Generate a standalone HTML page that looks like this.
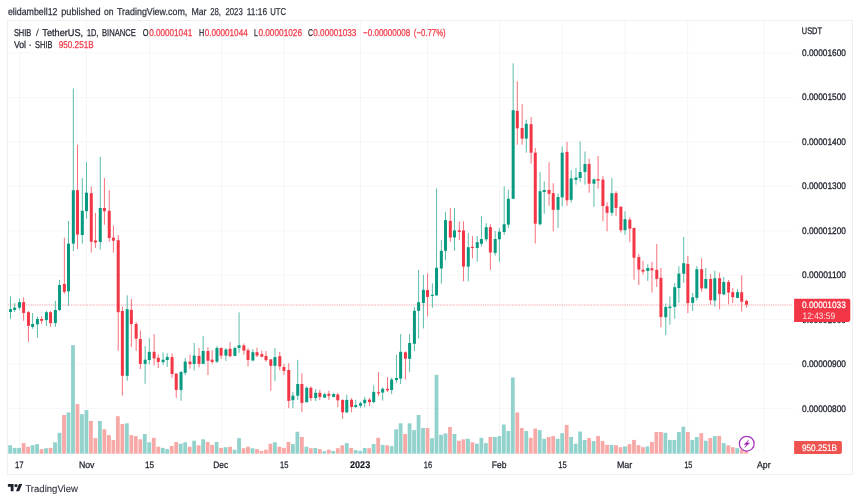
<!DOCTYPE html>
<html lang="en">
<head>
<meta charset="utf-8">
<title>SHIB / TetherUS, 1D, BINANCE</title>
<style>
  html, body { margin: 0; padding: 0; background: #ffffff; }
  body { width: 860px; height: 501px; overflow: hidden; font-family: "Liberation Sans", sans-serif; }
  svg { display: block; }
  text { font-family: "Liberation Sans", sans-serif; text-rendering: geometricPrecision; stroke-width: 0.25px; stroke-linejoin: round; white-space: pre; }
  .hdr { font-size: 10px; fill: #30343f; stroke: #30343f; }
  .lg { font-size: 9.9px; fill: #1c202b; stroke: #1c202b; }
  .lgs { font-size: 9.9px; fill: #3a3e49; stroke: none; }
  .lgr { font-size: 9.9px; fill: #f23645; stroke: #f23645; }
  .ax { font-size: 9.5px; fill: #1c202b; stroke: #1c202b; stroke-width: 0.3px; }
  .tm { font-size: 9.4px; fill: #1c202b; stroke: #1c202b; stroke-width: 0.25px; }
  .tmb { font-size: 9.8px; fill: #131722; stroke: #131722; stroke-width: 0.15px; font-weight: bold; }
  .wh { font-size: 9.4px; fill: #ffffff; stroke: #ffffff; stroke-width: 0.2px; }
  .wh2 { font-size: 9.4px; fill: #ffffff; stroke: none; fill-opacity: 0.85; }
  .logo { font-size: 9.8px; fill: #2a2e39; stroke: #2a2e39; stroke-width: 0.1px; }
</style>
</head>
<body>
<svg width="860" height="501" viewBox="0 0 860 501">
<rect x="0" y="0" width="860" height="501" fill="#ffffff"/>

<!-- chart frame -->
<rect x="7.5" y="20.5" width="845" height="454" fill="#ffffff" stroke="#edeff3" stroke-width="1"/>

<g>
<rect x="19" y="21" width="1" height="432.7" fill="#f5f5f7"/>
<rect x="86" y="21" width="1" height="432.7" fill="#f5f5f7"/>
<rect x="149" y="21" width="1" height="432.7" fill="#f5f5f7"/>
<rect x="221" y="21" width="1" height="432.7" fill="#f5f5f7"/>
<rect x="283.7" y="21" width="1" height="432.7" fill="#f5f5f7"/>
<rect x="360" y="21" width="1" height="432.7" fill="#f5f5f7"/>
<rect x="427" y="21" width="1" height="432.7" fill="#f5f5f7"/>
<rect x="499" y="21" width="1" height="432.7" fill="#f5f5f7"/>
<rect x="561.8" y="21" width="1" height="432.7" fill="#f5f5f7"/>
<rect x="624.5" y="21" width="1" height="432.7" fill="#f5f5f7"/>
<rect x="687.2" y="21" width="1" height="432.7" fill="#f5f5f7"/>
<rect x="763.8" y="21" width="1" height="432.7" fill="#f5f5f7"/>
<rect x="8" y="52.5" width="786" height="1" fill="#f7f7f9"/>
<rect x="8" y="96.95" width="786" height="1" fill="#f7f7f9"/>
<rect x="8" y="141.4" width="786" height="1" fill="#f7f7f9"/>
<rect x="8" y="185.85" width="786" height="1" fill="#f7f7f9"/>
<rect x="8" y="230.3" width="786" height="1" fill="#f7f7f9"/>
<rect x="8" y="274.75" width="786" height="1" fill="#f7f7f9"/>
<rect x="8" y="319.2" width="786" height="1" fill="#f7f7f9"/>
<rect x="8" y="363.65" width="786" height="1" fill="#f7f7f9"/>
<rect x="8" y="408.1" width="786" height="1" fill="#f7f7f9"/>
</g>
<g>
<rect x="8.25" y="445.2" width="3.8" height="8.5" fill="#92d2cc"/>
<rect x="12.74" y="447.9" width="3.8" height="5.8" fill="#92d2cc"/>
<rect x="17.23" y="447.9" width="3.8" height="5.8" fill="#92d2cc"/>
<rect x="21.71" y="443.1" width="3.8" height="10.6" fill="#f7a9a7"/>
<rect x="26.2" y="446.7" width="3.8" height="7" fill="#f7a9a7"/>
<rect x="30.69" y="445.2" width="3.8" height="8.5" fill="#92d2cc"/>
<rect x="35.18" y="444.1" width="3.8" height="9.6" fill="#92d2cc"/>
<rect x="39.67" y="449.1" width="3.8" height="4.6" fill="#f7a9a7"/>
<rect x="44.15" y="448.2" width="3.8" height="5.5" fill="#92d2cc"/>
<rect x="48.64" y="447.9" width="3.8" height="5.8" fill="#f7a9a7"/>
<rect x="53.13" y="442.3" width="3.8" height="11.4" fill="#92d2cc"/>
<rect x="57.62" y="432.8" width="3.8" height="20.9" fill="#92d2cc"/>
<rect x="62.11" y="415" width="3.8" height="38.7" fill="#f7a9a7"/>
<rect x="66.59" y="412.4" width="3.8" height="41.3" fill="#92d2cc"/>
<rect x="71.08" y="345.2" width="3.8" height="108.5" fill="#92d2cc"/>
<rect x="75.57" y="404.1" width="3.8" height="49.6" fill="#f7a9a7"/>
<rect x="80.06" y="414.2" width="3.8" height="39.5" fill="#92d2cc"/>
<rect x="84.55" y="410.1" width="3.8" height="43.6" fill="#92d2cc"/>
<rect x="89.03" y="421" width="3.8" height="32.7" fill="#f7a9a7"/>
<rect x="93.52" y="438.1" width="3.8" height="15.6" fill="#f7a9a7"/>
<rect x="98.01" y="421" width="3.8" height="32.7" fill="#92d2cc"/>
<rect x="102.5" y="429.3" width="3.8" height="24.4" fill="#f7a9a7"/>
<rect x="106.99" y="435.1" width="3.8" height="18.6" fill="#f7a9a7"/>
<rect x="111.47" y="440" width="3.8" height="13.7" fill="#f7a9a7"/>
<rect x="115.96" y="416.2" width="3.8" height="37.5" fill="#f7a9a7"/>
<rect x="120.45" y="424" width="3.8" height="29.7" fill="#f7a9a7"/>
<rect x="124.94" y="423.3" width="3.8" height="30.4" fill="#92d2cc"/>
<rect x="129.43" y="435.1" width="3.8" height="18.6" fill="#f7a9a7"/>
<rect x="133.91" y="436.1" width="3.8" height="17.6" fill="#f7a9a7"/>
<rect x="138.4" y="439.3" width="3.8" height="14.4" fill="#f7a9a7"/>
<rect x="142.89" y="434" width="3.8" height="19.7" fill="#92d2cc"/>
<rect x="147.38" y="442.3" width="3.8" height="11.4" fill="#92d2cc"/>
<rect x="151.87" y="437.8" width="3.8" height="15.9" fill="#f7a9a7"/>
<rect x="156.35" y="446.7" width="3.8" height="7" fill="#f7a9a7"/>
<rect x="160.84" y="447.9" width="3.8" height="5.8" fill="#92d2cc"/>
<rect x="165.33" y="449.1" width="3.8" height="4.6" fill="#92d2cc"/>
<rect x="169.82" y="445.9" width="3.8" height="7.8" fill="#f7a9a7"/>
<rect x="174.31" y="441.9" width="3.8" height="11.8" fill="#f7a9a7"/>
<rect x="178.79" y="443.7" width="3.8" height="10" fill="#92d2cc"/>
<rect x="183.28" y="442.3" width="3.8" height="11.4" fill="#92d2cc"/>
<rect x="187.77" y="446.7" width="3.8" height="7" fill="#f7a9a7"/>
<rect x="192.26" y="440.7" width="3.8" height="13" fill="#92d2cc"/>
<rect x="196.75" y="445.3" width="3.8" height="8.4" fill="#f7a9a7"/>
<rect x="201.23" y="439.3" width="3.8" height="14.4" fill="#92d2cc"/>
<rect x="205.72" y="441.9" width="3.8" height="11.8" fill="#f7a9a7"/>
<rect x="210.21" y="444.9" width="3.8" height="8.8" fill="#f7a9a7"/>
<rect x="214.7" y="441.9" width="3.8" height="11.8" fill="#92d2cc"/>
<rect x="219.19" y="447.9" width="3.8" height="5.8" fill="#f7a9a7"/>
<rect x="223.67" y="447.2" width="3.8" height="6.5" fill="#92d2cc"/>
<rect x="228.16" y="446.7" width="3.8" height="7" fill="#f7a9a7"/>
<rect x="232.65" y="449.7" width="3.8" height="4" fill="#92d2cc"/>
<rect x="237.14" y="438.2" width="3.8" height="15.5" fill="#92d2cc"/>
<rect x="241.63" y="448.2" width="3.8" height="5.5" fill="#f7a9a7"/>
<rect x="246.11" y="446.7" width="3.8" height="7" fill="#f7a9a7"/>
<rect x="250.6" y="448.2" width="3.8" height="5.5" fill="#92d2cc"/>
<rect x="255.09" y="449.1" width="3.8" height="4.6" fill="#f7a9a7"/>
<rect x="259.58" y="450.9" width="3.8" height="2.8" fill="#f7a9a7"/>
<rect x="264.07" y="449.7" width="3.8" height="4" fill="#f7a9a7"/>
<rect x="268.55" y="443.7" width="3.8" height="10" fill="#f7a9a7"/>
<rect x="273.04" y="442.3" width="3.8" height="11.4" fill="#92d2cc"/>
<rect x="277.53" y="446.7" width="3.8" height="7" fill="#f7a9a7"/>
<rect x="282.02" y="447.9" width="3.8" height="5.8" fill="#f7a9a7"/>
<rect x="286.51" y="441.9" width="3.8" height="11.8" fill="#f7a9a7"/>
<rect x="290.99" y="444.1" width="3.8" height="9.6" fill="#92d2cc"/>
<rect x="295.48" y="431.7" width="3.8" height="22" fill="#92d2cc"/>
<rect x="299.97" y="437" width="3.8" height="16.7" fill="#f7a9a7"/>
<rect x="304.46" y="446.7" width="3.8" height="7" fill="#92d2cc"/>
<rect x="308.95" y="448.2" width="3.8" height="5.5" fill="#f7a9a7"/>
<rect x="313.43" y="447.9" width="3.8" height="5.8" fill="#92d2cc"/>
<rect x="317.92" y="449.1" width="3.8" height="4.6" fill="#f7a9a7"/>
<rect x="322.41" y="451.2" width="3.8" height="2.5" fill="#92d2cc"/>
<rect x="326.9" y="449.7" width="3.8" height="4" fill="#f7a9a7"/>
<rect x="331.39" y="450.9" width="3.8" height="2.8" fill="#92d2cc"/>
<rect x="335.87" y="448.2" width="3.8" height="5.5" fill="#f7a9a7"/>
<rect x="340.36" y="445.3" width="3.8" height="8.4" fill="#f7a9a7"/>
<rect x="344.85" y="443.1" width="3.8" height="10.6" fill="#92d2cc"/>
<rect x="349.34" y="447.9" width="3.8" height="5.8" fill="#f7a9a7"/>
<rect x="353.83" y="450.2" width="3.8" height="3.5" fill="#92d2cc"/>
<rect x="358.31" y="450.9" width="3.8" height="2.8" fill="#92d2cc"/>
<rect x="362.8" y="447.9" width="3.8" height="5.8" fill="#92d2cc"/>
<rect x="367.29" y="448.2" width="3.8" height="5.5" fill="#f7a9a7"/>
<rect x="371.78" y="444.1" width="3.8" height="9.6" fill="#92d2cc"/>
<rect x="376.27" y="437.8" width="3.8" height="15.9" fill="#f7a9a7"/>
<rect x="380.75" y="444.9" width="3.8" height="8.8" fill="#92d2cc"/>
<rect x="385.24" y="445.3" width="3.8" height="8.4" fill="#f7a9a7"/>
<rect x="389.73" y="446.1" width="3.8" height="7.6" fill="#92d2cc"/>
<rect x="394.22" y="429.3" width="3.8" height="24.4" fill="#92d2cc"/>
<rect x="398.71" y="423.3" width="3.8" height="30.4" fill="#92d2cc"/>
<rect x="403.19" y="434" width="3.8" height="19.7" fill="#f7a9a7"/>
<rect x="407.68" y="423.3" width="3.8" height="30.4" fill="#92d2cc"/>
<rect x="412.17" y="430.1" width="3.8" height="23.6" fill="#92d2cc"/>
<rect x="416.66" y="415" width="3.8" height="38.7" fill="#92d2cc"/>
<rect x="421.15" y="428" width="3.8" height="25.7" fill="#92d2cc"/>
<rect x="425.63" y="428" width="3.8" height="25.7" fill="#f7a9a7"/>
<rect x="430.12" y="438.2" width="3.8" height="15.5" fill="#92d2cc"/>
<rect x="434.61" y="374.9" width="3.8" height="78.8" fill="#92d2cc"/>
<rect x="439.1" y="434.8" width="3.8" height="18.9" fill="#92d2cc"/>
<rect x="443.59" y="433.5" width="3.8" height="20.2" fill="#92d2cc"/>
<rect x="448.07" y="427" width="3.8" height="26.7" fill="#f7a9a7"/>
<rect x="452.56" y="434" width="3.8" height="19.7" fill="#92d2cc"/>
<rect x="457.05" y="440.7" width="3.8" height="13" fill="#f7a9a7"/>
<rect x="461.54" y="439.3" width="3.8" height="14.4" fill="#f7a9a7"/>
<rect x="466.03" y="438.8" width="3.8" height="14.9" fill="#92d2cc"/>
<rect x="470.51" y="442.3" width="3.8" height="11.4" fill="#f7a9a7"/>
<rect x="475" y="443.7" width="3.8" height="10" fill="#92d2cc"/>
<rect x="479.49" y="437.8" width="3.8" height="15.9" fill="#92d2cc"/>
<rect x="483.98" y="443.1" width="3.8" height="10.6" fill="#92d2cc"/>
<rect x="488.47" y="437" width="3.8" height="16.7" fill="#f7a9a7"/>
<rect x="492.95" y="437" width="3.8" height="16.7" fill="#92d2cc"/>
<rect x="497.44" y="436.1" width="3.8" height="17.6" fill="#92d2cc"/>
<rect x="501.93" y="424.5" width="3.8" height="29.2" fill="#92d2cc"/>
<rect x="506.42" y="431" width="3.8" height="22.7" fill="#92d2cc"/>
<rect x="510.91" y="377.5" width="3.8" height="76.2" fill="#92d2cc"/>
<rect x="515.39" y="412.4" width="3.8" height="41.3" fill="#f7a9a7"/>
<rect x="519.88" y="428" width="3.8" height="25.7" fill="#f7a9a7"/>
<rect x="524.37" y="431" width="3.8" height="22.7" fill="#92d2cc"/>
<rect x="528.86" y="437.8" width="3.8" height="15.9" fill="#f7a9a7"/>
<rect x="533.35" y="428.6" width="3.8" height="25.1" fill="#f7a9a7"/>
<rect x="537.83" y="430.1" width="3.8" height="23.6" fill="#92d2cc"/>
<rect x="542.32" y="438.8" width="3.8" height="14.9" fill="#92d2cc"/>
<rect x="546.81" y="437" width="3.8" height="16.7" fill="#f7a9a7"/>
<rect x="551.3" y="436.1" width="3.8" height="17.6" fill="#f7a9a7"/>
<rect x="555.79" y="438.8" width="3.8" height="14.9" fill="#92d2cc"/>
<rect x="560.27" y="433.2" width="3.8" height="20.5" fill="#92d2cc"/>
<rect x="564.76" y="424.9" width="3.8" height="28.8" fill="#f7a9a7"/>
<rect x="569.25" y="437" width="3.8" height="16.7" fill="#92d2cc"/>
<rect x="573.74" y="443.7" width="3.8" height="10" fill="#92d2cc"/>
<rect x="578.23" y="431.6" width="3.8" height="22.1" fill="#92d2cc"/>
<rect x="582.71" y="439.9" width="3.8" height="13.8" fill="#92d2cc"/>
<rect x="587.2" y="438.1" width="3.8" height="15.6" fill="#f7a9a7"/>
<rect x="591.69" y="441.1" width="3.8" height="12.6" fill="#92d2cc"/>
<rect x="596.18" y="436.1" width="3.8" height="17.6" fill="#f7a9a7"/>
<rect x="600.67" y="441.1" width="3.8" height="12.6" fill="#f7a9a7"/>
<rect x="605.15" y="444.9" width="3.8" height="8.8" fill="#f7a9a7"/>
<rect x="609.64" y="444.9" width="3.8" height="8.8" fill="#92d2cc"/>
<rect x="614.13" y="445.2" width="3.8" height="8.5" fill="#f7a9a7"/>
<rect x="618.62" y="447.2" width="3.8" height="6.5" fill="#f7a9a7"/>
<rect x="623.11" y="446.4" width="3.8" height="7.3" fill="#92d2cc"/>
<rect x="627.59" y="444.1" width="3.8" height="9.6" fill="#f7a9a7"/>
<rect x="632.08" y="439.9" width="3.8" height="13.8" fill="#f7a9a7"/>
<rect x="636.57" y="445.2" width="3.8" height="8.5" fill="#f7a9a7"/>
<rect x="641.06" y="447.2" width="3.8" height="6.5" fill="#f7a9a7"/>
<rect x="645.55" y="446.4" width="3.8" height="7.3" fill="#92d2cc"/>
<rect x="650.03" y="441.9" width="3.8" height="11.8" fill="#f7a9a7"/>
<rect x="654.52" y="432" width="3.8" height="21.7" fill="#f7a9a7"/>
<rect x="659.01" y="432" width="3.8" height="21.7" fill="#f7a9a7"/>
<rect x="663.5" y="432.8" width="3.8" height="20.9" fill="#92d2cc"/>
<rect x="667.99" y="439.9" width="3.8" height="13.8" fill="#92d2cc"/>
<rect x="672.47" y="439.9" width="3.8" height="13.8" fill="#92d2cc"/>
<rect x="676.96" y="432" width="3.8" height="21.7" fill="#92d2cc"/>
<rect x="681.45" y="426.7" width="3.8" height="27" fill="#92d2cc"/>
<rect x="685.94" y="432" width="3.8" height="21.7" fill="#f7a9a7"/>
<rect x="690.43" y="439.9" width="3.8" height="13.8" fill="#92d2cc"/>
<rect x="694.91" y="437" width="3.8" height="16.7" fill="#92d2cc"/>
<rect x="699.4" y="433.2" width="3.8" height="20.5" fill="#f7a9a7"/>
<rect x="703.89" y="440.7" width="3.8" height="13" fill="#92d2cc"/>
<rect x="708.38" y="438.1" width="3.8" height="15.6" fill="#f7a9a7"/>
<rect x="712.87" y="436.1" width="3.8" height="17.6" fill="#92d2cc"/>
<rect x="717.35" y="435.8" width="3.8" height="17.9" fill="#f7a9a7"/>
<rect x="721.84" y="443.1" width="3.8" height="10.6" fill="#92d2cc"/>
<rect x="726.33" y="445.3" width="3.8" height="8.4" fill="#f7a9a7"/>
<rect x="730.82" y="447.2" width="3.8" height="6.5" fill="#f7a9a7"/>
<rect x="735.31" y="448.2" width="3.8" height="5.5" fill="#92d2cc"/>
<rect x="739.79" y="449.7" width="3.8" height="4" fill="#f7a9a7"/>
<rect x="744.28" y="451.2" width="3.8" height="2.5" fill="#f7a9a7"/>
</g>
<line x1="8" y1="305" x2="793" y2="305" stroke="#f23645" stroke-width="1.1" stroke-dasharray="1.35 0.9" opacity="0.42"/>
<g>
<rect x="10" y="296.3" width="1" height="22.7" fill="#5cbdab"/>
<rect x="9" y="309.2" width="3" height="2.7" fill="#089981"/>
<rect x="14.16" y="303.1" width="1" height="8.8" fill="#5cbdab"/>
<rect x="13.16" y="307.7" width="3" height="2.2" fill="#089981"/>
<rect x="18.98" y="298.6" width="1" height="11.4" fill="#5cbdab"/>
<rect x="17.98" y="302.1" width="3" height="5.6" fill="#089981"/>
<rect x="23.13" y="297.4" width="1" height="23.4" fill="#f6727d"/>
<rect x="22.13" y="302.1" width="3" height="10.9" fill="#f23645"/>
<rect x="27.95" y="311" width="1" height="30.7" fill="#f6727d"/>
<rect x="26.95" y="312.2" width="3" height="13.6" fill="#f23645"/>
<rect x="32.11" y="313" width="1" height="15.8" fill="#5cbdab"/>
<rect x="31.11" y="324" width="3" height="2.9" fill="#089981"/>
<rect x="36.93" y="316.7" width="1" height="20.9" fill="#5cbdab"/>
<rect x="35.93" y="319" width="3" height="5.3" fill="#089981"/>
<rect x="41.09" y="316" width="1" height="7.9" fill="#f6727d"/>
<rect x="40.09" y="319" width="3" height="1.8" fill="#f23645"/>
<rect x="45.9" y="311" width="1" height="15.1" fill="#5cbdab"/>
<rect x="44.9" y="312.2" width="3" height="7.9" fill="#089981"/>
<rect x="50.06" y="311" width="1" height="15.9" fill="#f6727d"/>
<rect x="49.06" y="312.2" width="3" height="10.9" fill="#f23645"/>
<rect x="54.88" y="300.9" width="1" height="26" fill="#5cbdab"/>
<rect x="53.88" y="310" width="3" height="13.1" fill="#089981"/>
<rect x="59.04" y="279.8" width="1" height="31.2" fill="#5cbdab"/>
<rect x="58.04" y="285" width="3" height="25" fill="#089981"/>
<rect x="63.86" y="237.7" width="1" height="56.1" fill="#f6727d"/>
<rect x="62.86" y="284" width="3" height="7.8" fill="#f23645"/>
<rect x="68.01" y="220.9" width="1" height="84.8" fill="#5cbdab"/>
<rect x="67.01" y="243.6" width="3" height="47.7" fill="#089981"/>
<rect x="72.83" y="88.4" width="1" height="162.7" fill="#5cbdab"/>
<rect x="71.83" y="190.2" width="3" height="53.4" fill="#089981"/>
<rect x="76.99" y="144.8" width="1" height="104.2" fill="#f6727d"/>
<rect x="75.99" y="190.2" width="3" height="44.3" fill="#f23645"/>
<rect x="81.81" y="178.1" width="1" height="65.5" fill="#5cbdab"/>
<rect x="80.81" y="210.8" width="3" height="24.2" fill="#089981"/>
<rect x="85.97" y="162.2" width="1" height="56.6" fill="#5cbdab"/>
<rect x="84.97" y="192.7" width="3" height="18.5" fill="#089981"/>
<rect x="90.78" y="186.4" width="1" height="66.2" fill="#f6727d"/>
<rect x="89.78" y="193.2" width="3" height="48.5" fill="#f23645"/>
<rect x="94.94" y="213" width="1" height="34.8" fill="#f6727d"/>
<rect x="93.94" y="240.5" width="3" height="2" fill="#f23645"/>
<rect x="99.76" y="156.9" width="1" height="92.7" fill="#5cbdab"/>
<rect x="98.76" y="208" width="3" height="34" fill="#089981"/>
<rect x="103.92" y="178.1" width="1" height="46.6" fill="#f6727d"/>
<rect x="102.92" y="208" width="3" height="3.2" fill="#f23645"/>
<rect x="108.74" y="190.2" width="1" height="51.5" fill="#f6727d"/>
<rect x="107.74" y="210.8" width="3" height="27.2" fill="#f23645"/>
<rect x="112.89" y="225.6" width="1" height="27" fill="#f6727d"/>
<rect x="111.89" y="237.7" width="3" height="3" fill="#f23645"/>
<rect x="117.71" y="235" width="1" height="115.8" fill="#f6727d"/>
<rect x="116.71" y="240.2" width="3" height="72" fill="#f23645"/>
<rect x="121.87" y="306.6" width="1" height="89" fill="#f6727d"/>
<rect x="120.87" y="311" width="3" height="64.8" fill="#f23645"/>
<rect x="126.69" y="295.3" width="1" height="85.5" fill="#5cbdab"/>
<rect x="125.69" y="309.2" width="3" height="66.6" fill="#089981"/>
<rect x="130.85" y="298.9" width="1" height="48.1" fill="#f6727d"/>
<rect x="129.85" y="309.9" width="3" height="14.1" fill="#f23645"/>
<rect x="135.66" y="322" width="1" height="29" fill="#f6727d"/>
<rect x="134.66" y="324" width="3" height="14.7" fill="#f23645"/>
<rect x="139.82" y="330.4" width="1" height="38.6" fill="#f6727d"/>
<rect x="138.82" y="339" width="3" height="24.9" fill="#f23645"/>
<rect x="144.64" y="346" width="1" height="37.8" fill="#5cbdab"/>
<rect x="143.64" y="359.7" width="3" height="4.2" fill="#089981"/>
<rect x="148.8" y="338.2" width="1" height="26.3" fill="#5cbdab"/>
<rect x="147.8" y="351.8" width="3" height="8.2" fill="#089981"/>
<rect x="153.62" y="334.1" width="1" height="31.3" fill="#f6727d"/>
<rect x="152.62" y="351.8" width="3" height="6.6" fill="#f23645"/>
<rect x="157.77" y="354.4" width="1" height="13.6" fill="#f6727d"/>
<rect x="156.77" y="357.8" width="3" height="4.1" fill="#f23645"/>
<rect x="162.59" y="352.5" width="1" height="12.4" fill="#5cbdab"/>
<rect x="161.59" y="359.7" width="3" height="2.5" fill="#089981"/>
<rect x="166.75" y="353.3" width="1" height="13.6" fill="#5cbdab"/>
<rect x="165.75" y="356.9" width="3" height="3.1" fill="#089981"/>
<rect x="171.57" y="353.3" width="1" height="24.5" fill="#f6727d"/>
<rect x="170.57" y="357.1" width="3" height="16.9" fill="#f23645"/>
<rect x="175.73" y="373.3" width="1" height="24.6" fill="#f6727d"/>
<rect x="174.73" y="373.6" width="3" height="16.3" fill="#f23645"/>
<rect x="180.54" y="371" width="1" height="29.8" fill="#5cbdab"/>
<rect x="179.54" y="372" width="3" height="17.9" fill="#089981"/>
<rect x="184.7" y="358.1" width="1" height="17" fill="#5cbdab"/>
<rect x="183.7" y="361.6" width="3" height="11.2" fill="#089981"/>
<rect x="189.52" y="354.8" width="1" height="13.9" fill="#f6727d"/>
<rect x="188.52" y="361.6" width="3" height="2.6" fill="#f23645"/>
<rect x="193.68" y="343" width="1" height="27.5" fill="#5cbdab"/>
<rect x="192.68" y="355.6" width="3" height="8.3" fill="#089981"/>
<rect x="198.5" y="347.9" width="1" height="19.6" fill="#f6727d"/>
<rect x="197.5" y="355.9" width="3" height="8" fill="#f23645"/>
<rect x="202.65" y="335.9" width="1" height="28.3" fill="#5cbdab"/>
<rect x="201.65" y="351" width="3" height="12.9" fill="#089981"/>
<rect x="207.47" y="347.1" width="1" height="28" fill="#f6727d"/>
<rect x="206.47" y="351" width="3" height="9.7" fill="#f23645"/>
<rect x="211.63" y="350.3" width="1" height="13.6" fill="#f6727d"/>
<rect x="210.63" y="359.7" width="3" height="2.2" fill="#f23645"/>
<rect x="216.45" y="346" width="1" height="17" fill="#5cbdab"/>
<rect x="215.45" y="348" width="3" height="13.6" fill="#089981"/>
<rect x="220.61" y="347.3" width="1" height="11.6" fill="#f6727d"/>
<rect x="219.61" y="348" width="3" height="7.6" fill="#f23645"/>
<rect x="225.42" y="348" width="1" height="12.9" fill="#5cbdab"/>
<rect x="224.42" y="349.5" width="3" height="6.1" fill="#089981"/>
<rect x="229.58" y="342.3" width="1" height="14.8" fill="#f6727d"/>
<rect x="228.58" y="348.8" width="3" height="7.4" fill="#f23645"/>
<rect x="234.4" y="346.5" width="1" height="9.8" fill="#5cbdab"/>
<rect x="233.4" y="348" width="3" height="7.9" fill="#089981"/>
<rect x="238.56" y="312.3" width="1" height="40.5" fill="#5cbdab"/>
<rect x="237.56" y="345.2" width="3" height="2.8" fill="#089981"/>
<rect x="243.38" y="343.5" width="1" height="11.2" fill="#f6727d"/>
<rect x="242.38" y="345.4" width="3" height="5.2" fill="#f23645"/>
<rect x="247.53" y="348.1" width="1" height="18.4" fill="#f6727d"/>
<rect x="246.53" y="350.2" width="3" height="9.8" fill="#f23645"/>
<rect x="252.35" y="349.1" width="1" height="12.1" fill="#5cbdab"/>
<rect x="251.35" y="352.2" width="3" height="8.3" fill="#089981"/>
<rect x="256.51" y="347.6" width="1" height="9.5" fill="#f6727d"/>
<rect x="255.51" y="352.2" width="3" height="3.4" fill="#f23645"/>
<rect x="261.33" y="350.6" width="1" height="6.8" fill="#f6727d"/>
<rect x="260.33" y="354.1" width="3" height="2.6" fill="#f23645"/>
<rect x="265.49" y="351.1" width="1" height="10.6" fill="#f6727d"/>
<rect x="264.49" y="355.9" width="3" height="4.3" fill="#f23645"/>
<rect x="270.3" y="359" width="1" height="31.8" fill="#f6727d"/>
<rect x="269.3" y="359.4" width="3" height="6.4" fill="#f23645"/>
<rect x="274.46" y="348.1" width="1" height="32.9" fill="#5cbdab"/>
<rect x="273.46" y="357.1" width="3" height="8.7" fill="#089981"/>
<rect x="279.28" y="351.9" width="1" height="18.4" fill="#f6727d"/>
<rect x="278.28" y="356.2" width="3" height="10.3" fill="#f23645"/>
<rect x="283.44" y="363.8" width="1" height="11.1" fill="#f6727d"/>
<rect x="282.44" y="367" width="3" height="3.8" fill="#f23645"/>
<rect x="288.26" y="363.2" width="1" height="45" fill="#f6727d"/>
<rect x="287.26" y="370" width="3" height="30.9" fill="#f23645"/>
<rect x="292.41" y="392" width="1" height="16.2" fill="#5cbdab"/>
<rect x="291.41" y="395.7" width="3" height="4.5" fill="#089981"/>
<rect x="297.23" y="359.8" width="1" height="40.1" fill="#5cbdab"/>
<rect x="296.23" y="384" width="3" height="11.7" fill="#089981"/>
<rect x="301.39" y="373.4" width="1" height="38.6" fill="#f6727d"/>
<rect x="300.39" y="384" width="3" height="18.9" fill="#f23645"/>
<rect x="306.21" y="386.3" width="1" height="16.2" fill="#5cbdab"/>
<rect x="305.21" y="387.8" width="3" height="14.4" fill="#089981"/>
<rect x="310.37" y="386.3" width="1" height="14.6" fill="#f6727d"/>
<rect x="309.37" y="387.8" width="3" height="10.3" fill="#f23645"/>
<rect x="315.18" y="389" width="1" height="12.1" fill="#5cbdab"/>
<rect x="314.18" y="392.8" width="3" height="5.3" fill="#089981"/>
<rect x="319.34" y="389.6" width="1" height="10.3" fill="#f6727d"/>
<rect x="318.34" y="392.8" width="3" height="4.1" fill="#f23645"/>
<rect x="324.16" y="392.8" width="1" height="5.3" fill="#5cbdab"/>
<rect x="323.16" y="394.3" width="3" height="3.3" fill="#089981"/>
<rect x="328.32" y="390.8" width="1" height="9.1" fill="#f6727d"/>
<rect x="327.32" y="393.8" width="3" height="2" fill="#f23645"/>
<rect x="333.14" y="392.8" width="1" height="4.5" fill="#5cbdab"/>
<rect x="332.14" y="394.1" width="3" height="2.8" fill="#089981"/>
<rect x="337.29" y="392.8" width="1" height="14.3" fill="#f6727d"/>
<rect x="336.29" y="394.6" width="3" height="5.7" fill="#f23645"/>
<rect x="342.11" y="399.5" width="1" height="19.3" fill="#f6727d"/>
<rect x="341.11" y="399.9" width="3" height="12.4" fill="#f23645"/>
<rect x="346.27" y="394.9" width="1" height="18.3" fill="#5cbdab"/>
<rect x="345.27" y="399.9" width="3" height="12.4" fill="#089981"/>
<rect x="351.09" y="398" width="1" height="14.2" fill="#f6727d"/>
<rect x="350.09" y="399.8" width="3" height="7.2" fill="#f23645"/>
<rect x="355.25" y="399.8" width="1" height="8.4" fill="#5cbdab"/>
<rect x="354.25" y="405.1" width="3" height="1.9" fill="#089981"/>
<rect x="360.06" y="401.7" width="1" height="6" fill="#5cbdab"/>
<rect x="359.06" y="403.2" width="3" height="2.6" fill="#089981"/>
<rect x="364.22" y="396.9" width="1" height="10.5" fill="#5cbdab"/>
<rect x="363.22" y="399.7" width="3" height="3.5" fill="#089981"/>
<rect x="369.04" y="397.9" width="1" height="8.3" fill="#f6727d"/>
<rect x="368.04" y="399.7" width="3" height="2.4" fill="#f23645"/>
<rect x="373.2" y="385.4" width="1" height="17.8" fill="#5cbdab"/>
<rect x="372.2" y="391.9" width="3" height="10.2" fill="#089981"/>
<rect x="378.02" y="372.2" width="1" height="23.9" fill="#f6727d"/>
<rect x="377.02" y="392.2" width="3" height="1.2" fill="#f23645"/>
<rect x="382.17" y="387.3" width="1" height="13.3" fill="#5cbdab"/>
<rect x="381.17" y="388.8" width="3" height="3.8" fill="#089981"/>
<rect x="386.99" y="377" width="1" height="14.9" fill="#f6727d"/>
<rect x="385.99" y="388.8" width="3" height="1.6" fill="#f23645"/>
<rect x="391.15" y="377.5" width="1" height="16.6" fill="#5cbdab"/>
<rect x="390.15" y="379.5" width="3" height="10.5" fill="#089981"/>
<rect x="395.97" y="354.8" width="1" height="28" fill="#5cbdab"/>
<rect x="394.97" y="378" width="3" height="2.1" fill="#089981"/>
<rect x="400.13" y="334" width="1" height="50" fill="#5cbdab"/>
<rect x="399.13" y="351.8" width="3" height="26.8" fill="#089981"/>
<rect x="404.94" y="351.3" width="1" height="28.2" fill="#f6727d"/>
<rect x="403.94" y="352.3" width="3" height="6.3" fill="#f23645"/>
<rect x="409.1" y="334" width="1" height="38.2" fill="#5cbdab"/>
<rect x="408.1" y="343" width="3" height="15.9" fill="#089981"/>
<rect x="413.92" y="307" width="1" height="44" fill="#5cbdab"/>
<rect x="412.92" y="310.8" width="3" height="33" fill="#089981"/>
<rect x="418.08" y="270" width="1" height="68.5" fill="#5cbdab"/>
<rect x="417.08" y="302.2" width="3" height="8.6" fill="#089981"/>
<rect x="422.9" y="274.8" width="1" height="53.6" fill="#5cbdab"/>
<rect x="421.9" y="289.8" width="3" height="13.2" fill="#089981"/>
<rect x="427.05" y="273.3" width="1" height="43.3" fill="#f6727d"/>
<rect x="426.05" y="290.1" width="3" height="6.8" fill="#f23645"/>
<rect x="431.87" y="283.3" width="1" height="24.5" fill="#5cbdab"/>
<rect x="430.87" y="294.7" width="3" height="1.2" fill="#089981"/>
<rect x="436.03" y="188.5" width="1" height="107.2" fill="#5cbdab"/>
<rect x="435.03" y="267.7" width="3" height="27.7" fill="#089981"/>
<rect x="440.85" y="240" width="1" height="43.6" fill="#5cbdab"/>
<rect x="439.85" y="250.8" width="3" height="17.7" fill="#089981"/>
<rect x="445.01" y="211.8" width="1" height="48.4" fill="#5cbdab"/>
<rect x="444.01" y="220.1" width="3" height="30.7" fill="#089981"/>
<rect x="449.82" y="208" width="1" height="33.7" fill="#f6727d"/>
<rect x="448.82" y="220.9" width="3" height="16.6" fill="#f23645"/>
<rect x="453.98" y="208" width="1" height="42.7" fill="#5cbdab"/>
<rect x="452.98" y="230.4" width="3" height="7.1" fill="#089981"/>
<rect x="458.8" y="221.3" width="1" height="18.7" fill="#f6727d"/>
<rect x="457.8" y="230.4" width="3" height="1.5" fill="#f23645"/>
<rect x="462.96" y="221.3" width="1" height="60" fill="#f6727d"/>
<rect x="461.96" y="230.5" width="3" height="36.1" fill="#f23645"/>
<rect x="467.78" y="233" width="1" height="48.3" fill="#5cbdab"/>
<rect x="466.78" y="247.2" width="3" height="19.4" fill="#089981"/>
<rect x="471.93" y="236" width="1" height="22.6" fill="#f6727d"/>
<rect x="470.93" y="246.9" width="3" height="1.2" fill="#f23645"/>
<rect x="476.75" y="236" width="1" height="25.8" fill="#5cbdab"/>
<rect x="475.75" y="242.2" width="3" height="5.8" fill="#089981"/>
<rect x="480.91" y="216" width="1" height="30.6" fill="#5cbdab"/>
<rect x="479.91" y="239" width="3" height="4.8" fill="#089981"/>
<rect x="485.73" y="223.2" width="1" height="18.4" fill="#5cbdab"/>
<rect x="484.73" y="227.2" width="3" height="12.1" fill="#089981"/>
<rect x="489.89" y="224.2" width="1" height="45.6" fill="#f6727d"/>
<rect x="488.89" y="227.2" width="3" height="25.3" fill="#f23645"/>
<rect x="494.7" y="231" width="1" height="24.6" fill="#5cbdab"/>
<rect x="493.7" y="239" width="3" height="13.9" fill="#089981"/>
<rect x="498.86" y="228" width="1" height="33.7" fill="#5cbdab"/>
<rect x="497.86" y="231.7" width="3" height="7.6" fill="#089981"/>
<rect x="503.68" y="186.3" width="1" height="48.5" fill="#5cbdab"/>
<rect x="502.68" y="224.2" width="3" height="7.8" fill="#089981"/>
<rect x="507.84" y="189.6" width="1" height="38.4" fill="#5cbdab"/>
<rect x="506.84" y="198.7" width="3" height="25.9" fill="#089981"/>
<rect x="512.66" y="63.3" width="1" height="135.9" fill="#5cbdab"/>
<rect x="511.66" y="110.2" width="3" height="88.6" fill="#089981"/>
<rect x="516.81" y="81.2" width="1" height="63.5" fill="#f6727d"/>
<rect x="515.81" y="110.9" width="3" height="17.4" fill="#f23645"/>
<rect x="521.63" y="104.1" width="1" height="40.6" fill="#f6727d"/>
<rect x="520.63" y="128" width="3" height="10.6" fill="#f23645"/>
<rect x="525.79" y="119.7" width="1" height="33" fill="#5cbdab"/>
<rect x="524.79" y="123.8" width="3" height="14.8" fill="#089981"/>
<rect x="530.61" y="117" width="1" height="46.6" fill="#f6727d"/>
<rect x="529.61" y="124.2" width="3" height="28.5" fill="#f23645"/>
<rect x="534.77" y="148.1" width="1" height="95.4" fill="#f6727d"/>
<rect x="533.77" y="152.7" width="3" height="71" fill="#f23645"/>
<rect x="539.58" y="172" width="1" height="53.7" fill="#5cbdab"/>
<rect x="538.58" y="191.2" width="3" height="33" fill="#089981"/>
<rect x="543.74" y="181.4" width="1" height="32.2" fill="#5cbdab"/>
<rect x="542.74" y="190" width="3" height="2" fill="#089981"/>
<rect x="548.56" y="162.2" width="1" height="43.5" fill="#f6727d"/>
<rect x="547.56" y="190" width="3" height="3.8" fill="#f23645"/>
<rect x="552.72" y="183.2" width="1" height="48.2" fill="#f6727d"/>
<rect x="551.72" y="193.2" width="3" height="16.6" fill="#f23645"/>
<rect x="557.54" y="193.5" width="1" height="34.5" fill="#5cbdab"/>
<rect x="556.54" y="197" width="3" height="12.8" fill="#089981"/>
<rect x="561.69" y="146.6" width="1" height="59.7" fill="#5cbdab"/>
<rect x="560.69" y="152.7" width="3" height="44.6" fill="#089981"/>
<rect x="566.51" y="141.8" width="1" height="63.9" fill="#f6727d"/>
<rect x="565.51" y="151.9" width="3" height="48.4" fill="#f23645"/>
<rect x="570.67" y="170" width="1" height="32.6" fill="#5cbdab"/>
<rect x="569.67" y="178.4" width="3" height="21.4" fill="#089981"/>
<rect x="575.49" y="167.8" width="1" height="16.9" fill="#5cbdab"/>
<rect x="574.49" y="177.6" width="3" height="2.3" fill="#089981"/>
<rect x="579.65" y="141.3" width="1" height="40.4" fill="#5cbdab"/>
<rect x="578.65" y="172" width="3" height="6" fill="#089981"/>
<rect x="584.46" y="151.5" width="1" height="33.2" fill="#5cbdab"/>
<rect x="583.46" y="164" width="3" height="7.9" fill="#089981"/>
<rect x="588.62" y="158.7" width="1" height="34" fill="#f6727d"/>
<rect x="587.62" y="164" width="3" height="19.7" fill="#f23645"/>
<rect x="593.44" y="178.4" width="1" height="28.4" fill="#5cbdab"/>
<rect x="592.44" y="179.4" width="3" height="4.3" fill="#089981"/>
<rect x="597.6" y="156" width="1" height="32.7" fill="#f6727d"/>
<rect x="596.6" y="179.1" width="3" height="1.5" fill="#f23645"/>
<rect x="602.42" y="176.1" width="1" height="45.1" fill="#f6727d"/>
<rect x="601.42" y="179.6" width="3" height="26.4" fill="#f23645"/>
<rect x="606.57" y="202.3" width="1" height="29.1" fill="#f6727d"/>
<rect x="605.57" y="206.3" width="3" height="6.5" fill="#f23645"/>
<rect x="611.39" y="178.1" width="1" height="37.8" fill="#5cbdab"/>
<rect x="610.39" y="193.2" width="3" height="19.6" fill="#089981"/>
<rect x="615.55" y="191.2" width="1" height="24.7" fill="#f6727d"/>
<rect x="614.55" y="193.2" width="3" height="14.7" fill="#f23645"/>
<rect x="620.37" y="206" width="1" height="26.5" fill="#f6727d"/>
<rect x="619.37" y="206.8" width="3" height="23.4" fill="#f23645"/>
<rect x="624.53" y="211.3" width="1" height="23.5" fill="#5cbdab"/>
<rect x="623.53" y="219.2" width="3" height="11" fill="#089981"/>
<rect x="629.34" y="217.4" width="1" height="24.9" fill="#f6727d"/>
<rect x="628.34" y="219.7" width="3" height="9" fill="#f23645"/>
<rect x="633.5" y="227.5" width="1" height="52.2" fill="#f6727d"/>
<rect x="632.5" y="228" width="3" height="29.7" fill="#f23645"/>
<rect x="638.32" y="254.1" width="1" height="31" fill="#f6727d"/>
<rect x="637.32" y="257.1" width="3" height="12.5" fill="#f23645"/>
<rect x="642.48" y="260.9" width="1" height="13.6" fill="#f6727d"/>
<rect x="641.48" y="269.8" width="3" height="1.8" fill="#f23645"/>
<rect x="647.3" y="264.2" width="1" height="16.7" fill="#5cbdab"/>
<rect x="646.3" y="268" width="3" height="3" fill="#089981"/>
<rect x="651.45" y="261.7" width="1" height="31" fill="#f6727d"/>
<rect x="650.45" y="268.3" width="3" height="2" fill="#f23645"/>
<rect x="656.27" y="244.1" width="1" height="42.8" fill="#f6727d"/>
<rect x="655.27" y="269.8" width="3" height="9.1" fill="#f23645"/>
<rect x="660.43" y="268" width="1" height="59.3" fill="#f6727d"/>
<rect x="659.43" y="277.8" width="3" height="39.1" fill="#f23645"/>
<rect x="665.25" y="303.5" width="1" height="31.5" fill="#5cbdab"/>
<rect x="664.25" y="307" width="3" height="10.2" fill="#089981"/>
<rect x="669.41" y="296.3" width="1" height="28.4" fill="#5cbdab"/>
<rect x="668.41" y="306.6" width="3" height="1.5" fill="#089981"/>
<rect x="674.22" y="283.1" width="1" height="35.6" fill="#5cbdab"/>
<rect x="673.22" y="287.2" width="3" height="19.7" fill="#089981"/>
<rect x="678.38" y="266.3" width="1" height="36.5" fill="#5cbdab"/>
<rect x="677.38" y="273.6" width="3" height="14.4" fill="#089981"/>
<rect x="683.2" y="237" width="1" height="45.8" fill="#5cbdab"/>
<rect x="682.2" y="263.2" width="3" height="10.6" fill="#089981"/>
<rect x="687.36" y="255.9" width="1" height="57.2" fill="#f6727d"/>
<rect x="686.36" y="263.9" width="3" height="39.2" fill="#f23645"/>
<rect x="692.18" y="293" width="1" height="17.9" fill="#5cbdab"/>
<rect x="691.18" y="297.3" width="3" height="5.6" fill="#089981"/>
<rect x="696.33" y="266" width="1" height="34.5" fill="#5cbdab"/>
<rect x="695.33" y="269.2" width="3" height="28.6" fill="#089981"/>
<rect x="701.15" y="258.3" width="1" height="33.5" fill="#f6727d"/>
<rect x="700.15" y="269.2" width="3" height="19.2" fill="#f23645"/>
<rect x="705.31" y="268" width="1" height="20.8" fill="#5cbdab"/>
<rect x="704.31" y="279" width="3" height="9.4" fill="#089981"/>
<rect x="710.13" y="274" width="1" height="30.7" fill="#f6727d"/>
<rect x="709.13" y="279" width="3" height="21.2" fill="#f23645"/>
<rect x="714.29" y="270.7" width="1" height="35.8" fill="#5cbdab"/>
<rect x="713.29" y="278.2" width="3" height="22.3" fill="#089981"/>
<rect x="719.1" y="272.8" width="1" height="36.4" fill="#f6727d"/>
<rect x="718.1" y="278.2" width="3" height="15.9" fill="#f23645"/>
<rect x="723.26" y="277" width="1" height="18.2" fill="#5cbdab"/>
<rect x="722.26" y="282" width="3" height="12.4" fill="#089981"/>
<rect x="728.08" y="280" width="1" height="24.2" fill="#f6727d"/>
<rect x="727.08" y="282" width="3" height="10.6" fill="#f23645"/>
<rect x="732.24" y="288" width="1" height="15.2" fill="#f6727d"/>
<rect x="731.24" y="292.2" width="3" height="4.9" fill="#f23645"/>
<rect x="737.06" y="289.1" width="1" height="9.1" fill="#5cbdab"/>
<rect x="736.06" y="292.2" width="3" height="5.7" fill="#089981"/>
<rect x="741.21" y="275.2" width="1" height="36.3" fill="#f6727d"/>
<rect x="740.21" y="292.2" width="3" height="9.5" fill="#f23645"/>
<rect x="746.03" y="299.7" width="1" height="8" fill="#f6727d"/>
<rect x="745.03" y="300.9" width="3" height="3.8" fill="#f23645"/>
</g>

<!-- header, legend, axis text -->
<text class="hdr" transform="translate(7.9 15.05) scale(0.8832 1)">elidambell12</text>
<text class="hdr" transform="translate(61.2 15.05) scale(0.9180 1)">published</text>
<text class="hdr" transform="translate(103.9 15.05) scale(0.8629 1)">on</text>
<text class="hdr" transform="translate(117 15.05) scale(0.8906 1)">TradingView.com,</text>
<text class="hdr" transform="translate(191.4 15.05) scale(0.8762 1)">Mar</text>
<text class="hdr" transform="translate(210.2 15.05) scale(0.7766 1)">28,</text>
<text class="hdr" transform="translate(225.4 15.05) scale(0.7820 1)">2023</text>
<text class="hdr" transform="translate(246.8 15.05) scale(0.8396 1)">11:16</text>
<text class="hdr" transform="translate(270.2 15.05) scale(0.7733 1)">UTC</text>
<text class="lg" transform="translate(13.9 35.5) scale(0.7545 1)">SHIB</text>
<text class="lgs" transform="translate(35.8 35.5) scale(1.1636 1)">/</text>
<text class="lg" transform="translate(42.3 35.5) scale(0.9293 1)">TetherUS,</text>
<text class="lg" transform="translate(86.9 35.5) scale(0.7415 1)">1D,</text>
<text class="lg" transform="translate(102 35.5) scale(0.7721 1)">BINANCE</text>
<text class="lg" transform="translate(142.7 35.5) scale(0.7545 1)">O</text>
<text class="lgr" transform="translate(149.2 35.5) scale(0.8242 1)">0.00001041</text>
<text class="lg" transform="translate(198.9 35.5) scale(0.7282 1)">H</text>
<text class="lgr" transform="translate(204.7 35.5) scale(0.8242 1)">0.00001044</text>
<text class="lg" transform="translate(254.1 35.5) scale(0.6909 1)">L</text>
<text class="lgr" transform="translate(258.4 35.5) scale(0.8357 1)">0.00001026</text>
<text class="lg" transform="translate(308 35.5) scale(0.7002 1)">C</text>
<text class="lgr" transform="translate(313.3 35.5) scale(0.8261 1)">0.00001033</text>
<text class="lgr" transform="translate(363 35.5) scale(0.8145 1)">−0.00000008</text>
<text class="lgr" transform="translate(413.8 35.5) scale(0.7904 1)">(−0.77%)</text>
<text class="lg" transform="translate(13.9 48.1) scale(0.8810 1)">Vol</text>
<text class="lg" transform="translate(28.6 48.1) scale(1.0009 1)">·</text>
<text class="lg" transform="translate(35.1 48.1) scale(0.7545 1)">SHIB</text>
<text class="lgr" transform="translate(58.7 48.1) scale(0.8275 1)">950.251B</text>
<text class="ax" transform="translate(801.8 33.7) scale(0.7807 1)">USDT</text>
<text class="ax" transform="translate(802 55.8) scale(0.8764 1)">0.00001600</text>
<text class="ax" transform="translate(802 100.31) scale(0.8764 1)">0.00001500</text>
<text class="ax" transform="translate(802 144.82) scale(0.8764 1)">0.00001400</text>
<text class="ax" transform="translate(802 189.33) scale(0.8764 1)">0.00001300</text>
<text class="ax" transform="translate(802 233.84) scale(0.8764 1)">0.00001200</text>
<text class="ax" transform="translate(802 278.35) scale(0.8889 1)">0.00001100</text>
<text class="ax" transform="translate(802 322.86) scale(0.8764 1)">0.00001000</text>
<text class="ax" transform="translate(802 367.37) scale(0.8764 1)">0.00000900</text>
<text class="ax" transform="translate(802 411.88) scale(0.8764 1)">0.00000800</text>
<text class="tm" transform="translate(15 467.6) scale(0.8335 1)">17</text>
<text class="tm" transform="translate(78.9 467.6) scale(0.9357 1)">Nov</text>
<text class="tm" transform="translate(144.9 467.6) scale(0.8719 1)">15</text>
<text class="tm" transform="translate(213.3 467.6) scale(0.8877 1)">Dec</text>
<text class="tm" transform="translate(280 467.6) scale(0.8048 1)">15</text>
<text class="tmb" transform="translate(350 467.7) scale(0.9267 1)">2023</text>
<text class="tm" transform="translate(423.8 467.6) scale(0.7952 1)">16</text>
<text class="tm" transform="translate(491.8 467.6) scale(0.9099 1)">Feb</text>
<text class="tm" transform="translate(558.2 467.6) scale(0.8048 1)">15</text>
<text class="tm" transform="translate(616.9 467.6) scale(0.9470 1)">Mar</text>
<text class="tm" transform="translate(684.2 467.6) scale(0.7856 1)">15</text>
<text class="tm" transform="translate(757 467.6) scale(0.9319 1)">Apr</text>

<!-- last price label -->
<path d="M794.1 298.7 H848.5 A1.8 1.8 0 0 1 850.3 300.5 V320.1 A1.8 1.8 0 0 1 848.5 321.9 H794.1 Z" fill="#f23645"/>
<text class="wh" transform="translate(802 308.3) scale(0.8843 1)">0.00001033</text>
<text class="wh2" transform="translate(802.5 319.1) scale(0.8959 1)">12:43:59</text>

<!-- volume label -->
<path d="M794.1 440.9 H840.1 A1.8 1.8 0 0 1 841.9 442.7 V452.1 A1.8 1.8 0 0 1 840.1 453.9 H794.1 Z" fill="#ef5350"/>
<text class="wh" transform="translate(802 450.8) scale(0.8716 1)">950.251B</text>

<!-- lightning icon -->
<g>
<circle cx="746.75" cy="443.7" r="7.4" fill="#ffffff" stroke="#a535be" stroke-width="1.25"/>
<path d="M748.9 439.9 L744.0 444.4 L746.5 444.4 L744.5 447.7 L749.6 443.0 L747.1 443.0 Z" fill="#9c27b0" stroke="#9c27b0" stroke-width="0.35" stroke-linejoin="round"/>
</g>

<!-- TradingView logo -->
<g transform="translate(7.9 482.4) scale(0.403)" fill="#1e222d">
<path d="M14 22H7V11H0V4h14v18zM28 22h-8l7.500-18h8L28 22z"/>
<circle cx="20" cy="8" r="4"/>
</g>
<text class="logo" transform="translate(25.4 491.7) scale(0.9736 1)">TradingView</text>
</svg>
</body>
</html>
